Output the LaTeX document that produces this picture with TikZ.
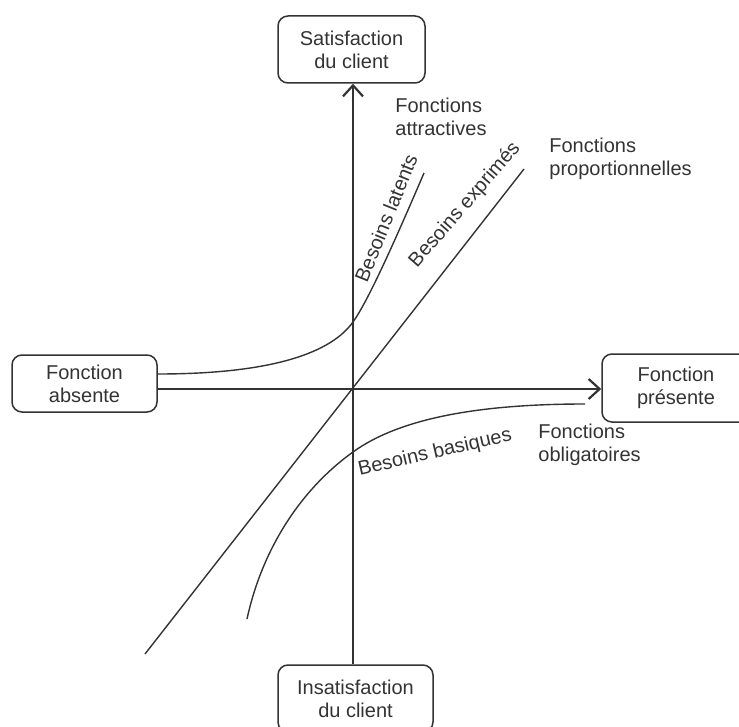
\documentclass[tikz,border=0pt]{standalone}
\usepackage{fontspec}
\setmainfont{Liberation Sans}
\usepackage{tikz}
\usetikzlibrary{positioning}
\usetikzlibrary{arrows.meta}

\definecolor{trait}{HTML}{333333}

\tikzset{
  boite/.style={draw=trait, rounded corners=5pt, align=center, line width=0.75pt, text=trait},
  axe/.style={draw=trait, line width=0.8pt, -{Straight Barb[length=5.5pt,width=10pt,line width=1.1pt]}},
  courbe/.style={draw=trait, line width=0.7pt},
  etiquette/.style={inner sep=0pt, text=trait, align=left},
}

\begin{document}
\begin{tikzpicture}[x=0.5pt, y=-0.5pt,
  every node/.style={font=\fontsize{10pt}{11.5pt}\selectfont}]
  \useasboundingbox (0,0) rectangle (739,727);

  % les quatre boites
  \node[boite, minimum width=73.5pt, minimum height=33.5pt] (satis) at (351.5,49.5) {Satisfaction\\du client};
  \node[boite, minimum width=72.5pt, minimum height=28.5pt] (absente) at (84.5,383.5) {Fonction\\absente};
  \node[boite, minimum width=74pt, minimum height=34pt] (presente) at (676,388) {Fonction\\pr\'esente};
  \node[boite, minimum width=77.5pt, minimum height=33.5pt] (insatis) at (355.5,698.5) {Insatisfaction\\du client};

  % axes
  \coordinate (O) at (353,389);
  \draw[axe] (insatis.north -| O) -- (satis.south -| O);
  \draw[axe] (absente.east |- O) -- (presente.west |- O);

  % besoins latents
  \coordinate (lat0) at ([yshift=4.75pt]absente.east);
  \coordinate (lat1) at (424,173);
  \draw[courbe] (lat0) .. controls (260,374) and (328,357) .. (353,322)
                       .. controls (368,301) and (394,243) .. (lat1);

  % besoins exprimes
  \coordinate (exp0) at (145,654);
  \coordinate (exp1) at (524,169);
  \draw[courbe] (exp0) -- (exp1);

  % besoins basiques
  \coordinate (bas0) at (247,619);
  \coordinate (bas1) at (585,404);
  \draw[courbe] (bas0) .. controls (262,550) and (300,490) .. (353,452)
                       .. controls (400,418) and (480,404) .. (bas1);

  % textes
  \node[etiquette, rotate=68] (latents) at (386,218) {Besoins latents};
  \node[etiquette, rotate=49] (exprimes) at (465,205) {Besoins exprim\'es};
  \node[etiquette, rotate=13] (basiques) at (435,453) {Besoins basiques};

  \node[etiquette, anchor=west] (attr) at (395,117) {Fonctions\\attractives};
  \node[etiquette, anchor=west] (prop) at (549,159) {Fonctions\\proportionnelles};
  \node[etiquette, anchor=west] (oblig) at (538,445) {Fonctions\\obligatoires};
\end{tikzpicture}
\end{document}
